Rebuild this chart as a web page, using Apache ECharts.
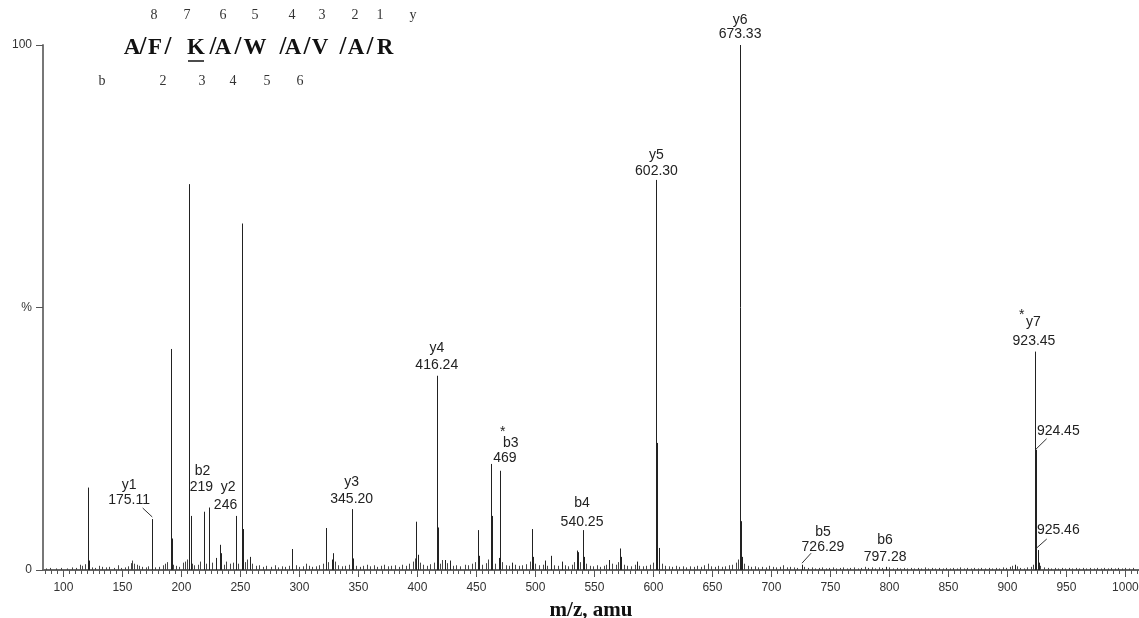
<!DOCTYPE html>
<html>
<head>
<meta charset="utf-8">
<title>MS/MS spectrum</title>
<script src="https://cdn.jsdelivr.net/npm/echarts@6/dist/echarts.min.js"></script>
<style>
  html, body { margin: 0; background: #fff; }
  #chart { width: 1139px; height: 618px; }
</style>
</head>
<body>
<div id="chart"></div>
<script>
// main fragment peaks (m/z, relative intensity %)
const peakMz = [120.6, 122.0, 175.1, 190.9, 191.9, 206.7, 207.7, 219.2, 223.7, 229.3, 232.7, 233.7,
  246.3, 251.1, 252.1, 258.1, 294.0, 322.5, 327.3, 328.7, 344.8, 345.8, 399.2, 400.2, 416.3, 417.3,
  423.4, 427.6, 451.6, 452.6, 462.1, 463.1, 469.0, 469.8, 480.0, 497.1, 498.1, 508.1, 513.0, 522.3,
  535.5, 536.5, 540.2, 541.2, 562.6, 571.7, 572.7, 585.8, 602.4, 603.4, 604.4, 673.3, 674.3, 675.3,
  726.3, 797.3, 906.5, 923.5, 924.5, 925.5, 926.5]
const peakPct = [15.7, 1.8, 9.7, 42.1, 6.0, 73.5, 10.3, 11.1, 11.9, 2.3, 4.8, 3.2,
  10.3, 66.0, 7.8, 2.5, 4.0, 8.0, 2.0, 3.2, 11.6, 2.2, 9.2, 2.9, 37.0, 8.1,
  1.9, 1.8, 7.6, 2.7, 20.2, 10.3, 2.3, 18.9, 1.4, 7.8, 2.5, 1.8, 2.7, 1.6,
  3.7, 3.4, 7.6, 2.5, 1.9, 4.1, 2.5, 1.6, 74.3, 24.2, 4.2, 100, 9.3, 2.5,
  1.0, 0.6, 1.0, 41.6, 22.9, 3.8, 1.4]

// low level background ions
const noiseMz = [85, 89, 94, 98, 103, 107, 111, 114, 116, 118, 124, 127, 130, 133, 136, 139, 143, 146, 149,
  152, 155, 157, 158.5, 160, 162, 164, 167, 170, 172, 178, 181, 184, 186, 188, 193, 195, 198, 201, 203,
  205, 209, 211, 214, 216, 221, 226, 236, 238, 241, 244, 248, 254, 256, 260, 263, 266, 269, 272, 276,
  279, 282, 285, 288, 291, 297, 300, 303, 306, 308, 311, 314, 317, 320, 324, 330, 333, 336, 339, 342,
  348, 351, 354, 357, 360, 363, 366, 369, 372, 375, 378, 381, 384, 387, 390, 393, 396, 398, 402, 405,
  408, 411, 414, 419, 421, 425, 430, 433, 436, 440, 443, 446, 449, 455, 458, 460, 466, 472, 475, 478,
  483, 486, 489, 492, 495, 500, 503, 506, 510, 516, 519, 525, 528, 531, 533, 538, 543, 546, 549, 552,
  555, 558, 560, 565, 568, 570, 575, 578, 581, 584, 588, 591, 594, 597, 600, 607, 610, 613, 616, 619,
  622, 625, 628, 631, 634, 637, 640, 643, 646, 649, 652, 655, 658, 661, 664, 667, 670, 671.5, 677, 680,
  683, 686, 689, 692, 695, 698, 701, 704, 707, 710, 713, 716, 719, 722, 728, 731, 734, 737, 740, 743,
  746, 749, 752, 755, 758, 761, 764, 767, 770, 773, 776, 779, 782, 785, 788, 791, 794, 800, 803, 806,
  809, 812, 815, 818, 821, 824, 827, 830, 833, 836, 839, 842, 845, 848, 851, 854, 857, 860, 863, 866,
  869, 872, 875, 878, 881, 884, 887, 890, 893, 896, 899, 902, 904, 908, 911, 914, 917, 920, 921.5, 928,
  931, 934, 937, 940, 943, 946, 949, 952, 955, 958, 961, 964, 967, 970, 973, 976, 979, 982, 985, 988,
  991, 994, 997, 1000, 1003, 1006]
const noisePct = [0.3, 0.4, 0.3, 0.4, 0.3, 0.5, 0.4, 1.0, 0.8, 1.1, 0.5, 0.4, 0.8, 0.6, 0.5, 0.6, 0.4, 0.9, 0.4,
  0.5, 0.7, 1.3, 1.8, 1.2, 1.0, 0.8, 0.6, 0.5, 0.7, 0.5, 0.6, 0.9, 1.2, 1.5, 1.0, 0.8, 0.6, 1.4, 1.6,
  2.0, 1.2, 0.9, 1.0, 1.6, 1.2, 1.4, 1.0, 1.6, 1.2, 1.4, 1.2, 1.5, 2.0, 1.2, 0.8, 0.9, 0.6, 0.8, 0.6,
  0.9, 0.5, 0.7, 0.6, 0.8, 0.9, 0.6, 0.7, 1.2, 0.8, 0.6, 0.7, 0.9, 1.2, 1.5, 1.6, 0.9, 0.7, 0.8, 1.0,
  0.8, 0.6, 0.8, 1.0, 0.7, 0.9, 0.6, 0.8, 1.0, 0.7, 0.8, 0.9, 0.6, 1.0, 0.8, 1.2, 1.6, 2.2, 1.4, 1.0,
  0.8, 1.1, 1.4, 1.2, 1.9, 1.3, 0.8, 0.9, 0.7, 1.0, 0.9, 1.2, 1.5, 1.0, 1.3, 2.0, 1.2, 1.5, 0.9, 0.8,
  1.0, 0.8, 0.9, 1.1, 1.6, 1.2, 0.9, 1.0, 0.8, 0.9, 0.8, 0.9, 0.7, 1.0, 1.5, 1.5, 1.2, 0.8, 0.7, 0.9,
  0.6, 0.8, 1.0, 1.2, 1.0, 1.5, 1.0, 0.8, 0.7, 1.0, 0.8, 0.7, 0.8, 1.0, 1.4, 1.2, 0.8, 0.7, 0.6, 0.8,
  0.6, 0.7, 0.5, 0.7, 0.6, 0.8, 0.6, 0.9, 1.2, 0.7, 0.6, 0.8, 0.6, 0.7, 0.9, 1.0, 1.4, 2.0, 1.2, 0.8,
  0.6, 0.7, 0.5, 0.6, 0.5, 0.8, 0.6, 0.5, 0.6, 0.9, 0.5, 0.6, 0.5, 0.4, 0.6, 0.4, 0.5, 0.3, 0.4, 0.5,
  0.3, 0.4, 0.5, 0.3, 0.4, 0.5, 0.3, 0.4, 0.5, 0.3, 0.4, 0.6, 0.4, 0.5, 0.3, 0.5, 0.4, 0.5, 0.3, 0.4,
  0.3, 0.4, 0.3, 0.4, 0.3, 0.4, 0.3, 0.5, 0.3, 0.4, 0.3, 0.4, 0.3, 0.4, 0.3, 0.4, 0.3, 0.5, 0.3, 0.4,
  0.3, 0.4, 0.3, 0.4, 0.3, 0.4, 0.3, 0.4, 0.3, 0.5, 0.4, 0.6, 0.8, 0.7, 0.4, 0.3, 0.5, 0.6, 1.0, 0.8,
  0.5, 0.4, 0.3, 0.4, 0.3, 0.4, 0.3, 0.4, 0.3, 0.4, 0.3, 0.4, 0.3, 0.4, 0.3, 0.4, 0.3, 0.4, 0.3, 0.4,
  0.3, 0.4, 0.3, 0.4, 0.3, 0.4]

// peak annotations: text, and where it sits (m/z, %)
const annText = ['y1', '175.11', 'b2', '219', 'y2', '246', 'y3', '345.20', 'y4', '416.24',
  '*', 'b3', '469', 'b4', '540.25', 'y5', '602.30', 'y6', '673.33',
  '*', 'y7', '923.45', '924.45', '925.46', 'b5', '726.29', 'b6', '797.28']
const annMz = [155.6, 155.6, 217.9, 217.0, 239.7, 237.4, 344.3, 344.3, 416.4, 416.4,
  472.3, 479.1, 474.2, 539.5, 539.5, 602.6, 602.6, 673.4, 673.4,
  912.1, 921.9, 922.5, 943.1, 943.1, 743.7, 743.7, 796.3, 796.3]
const annPct = [16.2, 13.3, 18.9, 15.7, 15.7, 12.3, 16.8, 13.5, 42.2, 39.0,
  26.3, 24.2, 21.3, 12.7, 9.2, 79.0, 76.0, 104.8, 102.1,
  48.5, 47.3, 43.5, 26.5, 7.5, 7.2, 4.4, 5.7, 2.5]

// leader lines from label to peak: [m/z1, %1, m/z2, %2]
const leaders = [
  [167.2, 11.8, 175.3, 10.1],
  [933.2, 25.0, 924.1, 23.0],
  [933.3, 5.9, 924.8, 4.2],
  [733.6, 3.2, 725.9, 1.3]
]

const xTickLabels = [100, 150, 200, 250, 300, 350, 400, 450, 500, 550, 600, 650, 700, 750, 800, 850, 900, 950, 1000]
const yTickLabels = [0, 50, 100]

// peptide sequence with fragment numbering
const seqLetters = ['A', 'F', 'K', 'A', 'W', 'A', 'V', 'A', 'R']
const yIonNums = ['8', '7', '6', '5', '4', '3', '2', '1', 'y']
const bIonNums = ['b', '2', '3', '4', '5', '6']

const xMin = 82.7
const xMax = 1011.5
const minorTicks = []
for (let v = 85; v <= 1010; v += 5) minorTicks.push(v)

const chart = echarts.init(document.getElementById('chart'), null, { renderer: 'canvas' })

const stick = (color) => (params, api) => {
  const top = api.coord([api.value(0), api.value(1)])
  const base = api.coord([api.value(0), 0])
  const x = Math.round(top[0]) + 0.5
  return {
    type: 'line',
    shape: { x1: x, y1: top[1], x2: x, y2: base[1] },
    style: { stroke: color, lineWidth: 1 }
  }
}

// layout of the sequence header (px)
const seqX = [132, 155, 196, 223, 255, 293, 320, 356, 385]
const slashX = [143, 168, 213, 238, 283, 307, 343, 370]
const yNumX = [154, 187, 223, 255, 292, 322, 355, 380, 413]
const bNumX = [102, 163, 202, 233, 267, 300]

const header = []
seqLetters.forEach((t, i) => header.push({
  type: 'text', x: seqX[i], y: 48,
  style: { text: t, font: 'bold 23px "Liberation Serif"', fill: '#111', align: 'center', verticalAlign: 'middle' }
}))
slashX.forEach(x => header.push({
  type: 'text', x: x, y: 48,
  style: { text: '/', font: 'bold 25px "Liberation Serif"', fill: '#111', align: 'center', verticalAlign: 'middle' }
}))
header.push({ type: 'line', shape: { x1: 188, y1: 61, x2: 204, y2: 61 }, style: { stroke: '#111', lineWidth: 1.5 } })
yIonNums.forEach((t, i) => header.push({
  type: 'text', x: yNumX[i], y: 15,
  style: { text: t, font: '14px "Liberation Serif"', fill: '#333', align: 'center', verticalAlign: 'middle' }
}))
bIonNums.forEach((t, i) => header.push({
  type: 'text', x: bNumX[i], y: 81,
  style: { text: t, font: '14px "Liberation Serif"', fill: '#333', align: 'center', verticalAlign: 'middle' }
}))

const option = {
  backgroundColor: '#fff',
  animation: false,
  grid: { left: 43, right: 0, top: 45, bottom: 48, containLabel: false, outerBoundsMode: 'none' },
  xAxis: [{
    type: 'value',
    min: xMin,
    max: xMax,
    position: 'bottom',
    name: 'm/z, amu',
    nameLocation: 'middle',
    nameGap: 30,
    nameTextStyle: { fontFamily: 'Liberation Serif', fontWeight: 'bold', fontSize: 21, color: '#111' },
    splitLine: { show: false },
    axisLine: { onZero: false, lineStyle: { color: '#666', width: 2 } },
    axisTick: { customValues: xTickLabels, length: 7, lineStyle: { color: '#555' } },
    axisLabel: {
      customValues: xTickLabels, margin: 12, fontFamily: 'Liberation Sans', fontSize: 12, color: '#333',
      formatter: v => String(v)
    }
  }, {
    type: 'value',
    min: xMin,
    max: xMax,
    position: 'bottom',
    offset: 0,
    splitLine: { show: false },
    axisLine: { show: false, onZero: false },
    axisTick: { customValues: minorTicks, length: 4, lineStyle: { color: '#555' } },
    axisLabel: { show: false }
  }],
  yAxis: {
    type: 'value',
    min: 0,
    max: 100,
    splitLine: { show: false },
    axisLine: { show: true, lineStyle: { color: '#777', width: 2 } },
    axisTick: { show: true, customValues: yTickLabels, length: 7, lineStyle: { color: '#555' } },
    axisLabel: {
      customValues: yTickLabels, margin: 11, fontFamily: 'Liberation Sans', fontSize: 12, color: '#333',
      formatter: v => (v === 50 ? '%' : String(v))
    }
  },
  series: [{
    type: 'custom',
    name: 'noise',
    clip: true,
    data: noiseMz.map((m, i) => [m, noisePct[i]]),
    encode: { x: 0, y: 1 },
    renderItem: stick('#444')
  }, {
    type: 'custom',
    name: 'peaks',
    clip: false,
    data: peakMz.map((m, i) => [m, peakPct[i]]),
    encode: { x: 0, y: 1 },
    renderItem: stick('#222')
  }, {
    type: 'custom',
    name: 'leaders',
    clip: false,
    data: leaders,
    renderItem: (params, api) => {
      const a = api.coord([api.value(0), api.value(1)])
      const b = api.coord([api.value(2), api.value(3)])
      return { type: 'line', shape: { x1: a[0], y1: a[1], x2: b[0], y2: b[1] }, style: { stroke: '#333', lineWidth: 1 } }
    }
  }, {
    type: 'custom',
    name: 'labels',
    clip: false,
    data: annMz.map((m, i) => [m, annPct[i]]),
    encode: { x: 0, y: 1 },
    renderItem: (params, api) => {
      const p = api.coord([api.value(0), api.value(1)])
      return {
        type: 'text',
        x: p[0], y: p[1],
        style: {
          text: annText[params.dataIndex],
          font: '14px "Liberation Sans"', fill: '#222',
          align: 'center', verticalAlign: 'middle',
          textAlign: 'center', textVerticalAlign: 'middle'
        }
      }
    }
  }],
  graphic: header
}

chart.setOption(option)
window.addEventListener('resize', () => chart.resize())
</script>
</body>
</html>
